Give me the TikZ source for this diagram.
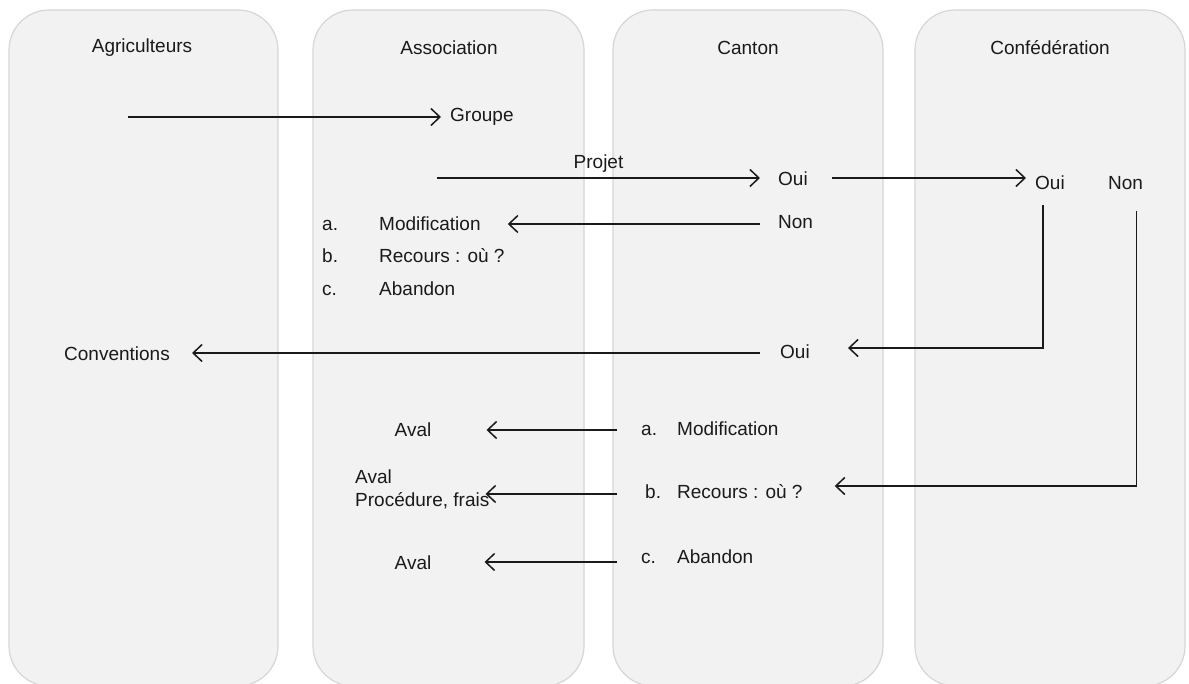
\documentclass[tikz,border=0pt]{standalone}
\usepackage{fontspec}
\setmainfont{Liberation Sans}
\usetikzlibrary{arrows.meta,calc}
\definecolor{lanefill}{HTML}{F2F2F2}
\definecolor{laneline}{HTML}{D6D6D6}
\definecolor{ink}{HTML}{1A1A1A}
\newcommand\itm[3]{\makebox[#1][l]{#2}#3}
\tikzset{
  lane/.style={draw=laneline, fill=lanefill, line width=1.2pt, rounded corners=40pt},
  lbl/.style={inner sep=0pt, text=ink, font=\fontsize{19}{23}\selectfont},
  arr/.style={draw=ink, line width=1.5pt, -{Straight Barb[length=9pt,width=17pt,line width=1.5pt]}}
}
\begin{document}
\begin{tikzpicture}[x=1pt,y=-1pt]
\useasboundingbox (0,0) rectangle (1189,684);
% lanes
\path[lane] (9,10) rectangle (278,686);
\path[lane] (313,10) rectangle (584,686);
\path[lane] (613,10) rectangle (883,686);
\path[lane] (915,10) rectangle (1185,686);
% headers
\node[lbl] (hAgri) at (142,48) {Agriculteurs};
\node[lbl] (hAsso) at (449,48) {Association};
\node[lbl] (hCant) at (748,48) {Canton};
\node[lbl] (hConf) at (1050,48) {Confédération};
% Groupe
\node[lbl,anchor=west] (groupe) at (450,117) {Groupe};
\coordinate (g0) at (128,117);
\draw[arr] (g0) -- ($(groupe.west)+(-9,0)$);
% Projet -> Oui (canton)
\node[lbl,anchor=west] (oui1) at (778,179) {Oui};
\coordinate (p0) at (437,178);
\draw[arr] (p0) -- ($(p0 -| oui1.west)+(-18,0)$)
  node[lbl,pos=0.5,above=5pt] (projet) {Projet};
% Oui (canton) -> Oui (confederation)
\node[lbl,anchor=west] (oui2) at (1035,183) {Oui};
\node[lbl,anchor=west] (non2) at (1108,183) {Non};
\draw[arr] ($(p0 -| oui1.east)+(24,0)$) -- ($(p0 -| oui2.west)+(-9,0)$);
% Non (canton) -> list
\node[lbl,anchor=west] (non1) at (778,222) {Non};
\node[lbl,anchor=west] (mod1) at (322,224) {\itm{57pt}{a.}{Modification}};
\node[lbl,anchor=west] (rec1) at (322,256) {\itm{57pt}{b.}{Recours : où ?}};
\node[lbl,anchor=west] (aba1) at (322,289) {\itm{57pt}{c.}{Abandon}};
\draw[arr] ($(non1.west)+(-18,2)$) -- ($(non1.west -| mod1.east)+(27,2)$);
% Oui (confederation) -> Oui (canton) -> Conventions
\node[lbl,anchor=west] (oui3) at (780,352) {Oui};
\node[lbl] (conv) at (117,354) {Conventions};
\draw[arr] ($(oui2.west)+(8,22)$) |- ($(oui3.east)+(38,-4)$);
\draw[arr] ($(oui3.west)+(-20,1)$) -- ($(oui3.west -| conv.east)+(22,1)$);
% Modification -> Aval
\node[lbl] (aval1) at (413,430) {Aval};
\node[lbl,anchor=west] (mod2) at (641,429) {\itm{36pt}{a.}{Modification}};
\draw[arr] ($(mod2.west)+(-24,1)$) -- ($(mod2.west -| aval1.east)+(55,1)$);
% Recours -> Aval, Procedure
\node[lbl,anchor=west,align=left] (aval2) at (355,489) {Aval\\Procédure, frais};
\node[lbl,anchor=west] (rec2) at (645,492) {\itm{32pt}{b.}{Recours : où ?}};
\draw[arr] ($(rec2.west)+(-28,2)$) -- ($(rec2.west -| aval2.east)+(-4,2)$);
\draw[arr] ($(non2.south)+(11,21)$) |- ($(rec2.east)+(32,-6)$);
% Abandon -> Aval
\node[lbl] (aval3) at (413,563) {Aval};
\node[lbl,anchor=west] (aba2) at (641,557) {\itm{36pt}{c.}{Abandon}};
\draw[arr] ($(aba2.west)+(-24,5)$) -- ($(aba2.west -| aval3.east)+(53,5)$);
\end{tikzpicture}
\end{document}
